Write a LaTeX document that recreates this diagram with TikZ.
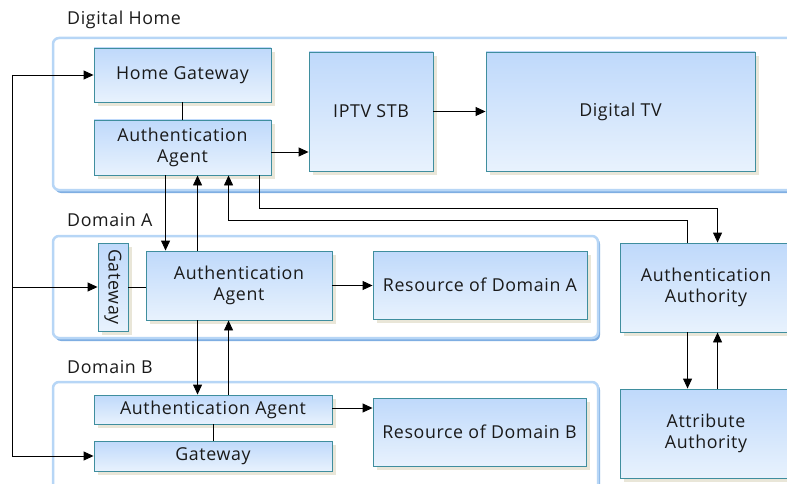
\documentclass[tikz,border=0pt]{standalone}
\usepackage{fontspec}
\setmainfont{Open Sans}[LetterSpace=3.5]
\usetikzlibrary{arrows.meta,calc,shadows}
\definecolor{boxtop}{HTML}{BFD9FB}
\definecolor{boxbot}{HTML}{E8F2FD}
\definecolor{boxline}{HTML}{3F8E9E}
\definecolor{boxshade}{HTML}{E9E6D8}
\definecolor{panelline}{HTML}{B7D6F6}
\definecolor{paneldark}{HTML}{7FAEE2}
\definecolor{inkc}{HTML}{1A1A1A}
\tikzset{
  txt/.style={text=inkc, font=\fontsize{17.8}{21.5}\selectfont},
  box/.style={txt, draw=boxline, line width=0.9pt, top color=boxtop, bottom color=boxbot,
    inner sep=2pt, align=center,
    drop shadow={shadow xshift=4pt, shadow yshift=-4pt, fill=boxshade, opacity=1}},
  arr/.style={draw=black, line width=0.9pt, -{Triangle[length=10pt,width=9pt]}},
  link/.style={draw=black, line width=0.9pt},
  title/.style={txt, anchor=west, inner sep=0pt},
}
\newcommand{\panel}[4]{%
  \fill[paneldark, rounded corners=6pt] (#1+2,#2+2) rectangle (#3+2,#4+3);
  \draw[panelline, line width=2.5pt, fill=white, rounded corners=6pt] (#1,#2) rectangle (#3,#4);
}
\begin{document}
\begin{tikzpicture}[x=1pt,y=-1pt]
\useasboundingbox (0,0) rectangle (787,484);
\begin{scope}
\clip (0,0) rectangle (787,484);
% group panels
\panel{53}{38}{810}{190}
\panel{53}{236}{598}{338}
\panel{53}{382}{598}{500}
\node[title] (tdh) at (67,20) {Digital Home};
\node[title] (tda) at (67,220) {Domain A};
\node[title] (tdb) at (67,367) {Domain B};

% Digital Home
\node[box, minimum width=177pt, minimum height=54pt] (hgw) at (182.5,75) {Home Gateway};
\node[box, minimum width=177pt, minimum height=55pt] (hag) at (182.5,147.5) {Authentication\\Agent};
\node[box, minimum width=124pt, minimum height=119pt] (iptv) at (371,111.5) {IPTV STB};
\node[box, minimum width=269pt, minimum height=119pt] (dtv) at (620.5,111.5) {Digital TV};

% Domain A
\node[box, minimum width=30pt, minimum height=88pt] (gwa) at (113,287) {};
\node[txt, rotate=-90] (gwat) at (gwa.center) {Gateway};
\node[box, minimum width=186pt, minimum height=69pt] (aga) at (239,285.5) {Authentication\\Agent};
\node[box, minimum width=214pt, minimum height=68pt] (resa) at (480,285) {Resource of Domain A};

% Domain B
\node[box, minimum width=238pt, minimum height=29pt] (agb) at (213,409.5) {Authentication Agent};
\node[box, minimum width=238pt, minimum height=30pt] (gwb) at (213,456) {Gateway};
\node[box, minimum width=213pt, minimum height=68pt] (resb) at (479.5,432) {Resource of Domain B};

% Authorities
\node[box, minimum width=172pt, minimum height=89pt] (aauth) at (706,287.5) {Authentication\\Authority};
\node[box, minimum width=172pt, minimum height=89pt] (attr) at (706,433.5) {Attribute\\Authority};

% access bus on the left
\coordinate (bus) at (12,0);
\draw[link] (hgw.west -| bus) -- (gwb.west -| bus);
\draw[arr] (hgw.west -| bus) -- (hgw.west);
\draw[arr] (gwa.west -| bus) -- (gwa.west);
\draw[arr] (gwb.west -| bus) -- (gwb.west);

% plain links
\draw[link] (hgw.south) -- (hag.north);
\draw[link] (gwa.east) -- (gwa.east -| aga.west);
\draw[link] (agb.south) -- (gwb.north);

% service arrows
\coordinate (h1) at ([yshift=-4.5pt]hag.east);
\draw[arr] (h1) -- (h1 -| iptv.west);
\draw[arr] (iptv.east) -- (dtv.west);
\draw[arr] (aga.east) -- (aga.east -| resa.west);
\coordinate (b1) at ([yshift=1.5pt]agb.east);
\draw[arr] (b1) -- (b1 -| resb.west);

% home agent <-> domain A agent
\coordinate (hd1) at ([xshift=72pt]hag.south west);
\coordinate (hu1) at ([xshift=104pt]hag.south west);
\draw[arr] (hd1) -- (hd1 |- aga.north);
\draw[arr] (hu1 |- aga.north) -- (hu1);

% domain A agent <-> domain B agent
\coordinate (ad1) at ([xshift=52pt]aga.south west);
\coordinate (au1) at ([xshift=83pt]aga.south west);
\draw[arr] (ad1) -- (ad1 |- agb.north);
\draw[arr] (au1 |- agb.north) -- (au1);

% home agent <-> authentication authority
\coordinate (hx) at ([xshift=166pt]hag.south west);
\coordinate (hy) at ([xshift=135pt]hag.south west);
\coordinate (ax) at ([xshift=98pt]aauth.north west);
\coordinate (ay) at ([xshift=68pt]aauth.north west);
\draw[arr] (hx) -- ++(0,33) -| (ax);
\draw[arr] (ay) -- ++(0,-22) -| (hy);

% authentication authority <-> attribute authority
\coordinate (dd) at ([xshift=68pt]aauth.south west);
\coordinate (uu) at ([xshift=98pt]aauth.south west);
\draw[arr] (dd) -- (dd |- attr.north);
\draw[arr] (uu |- attr.north) -- (uu);
\end{scope}
\end{tikzpicture}
\end{document}
